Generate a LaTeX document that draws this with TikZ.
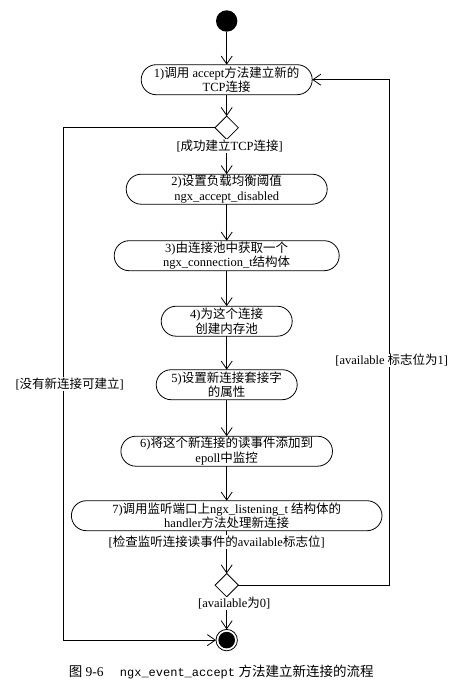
\documentclass[tikz,border=0pt]{standalone}
\usepackage{fontspec}
\setmainfont{Liberation Serif}
\setmonofont{Liberation Mono}
\newfontfamily\zhfont{Noto Sans CJK SC}
\newcommand{\cn}[1]{{\zhfont #1}}
\usepackage{tikz}
\usetikzlibrary{arrows.meta,positioning,calc,shapes.geometric}

\tikzset{
  flow/.style={-{Straight Barb[length=8pt,width=11pt]}, line width=0.8pt},
  action/.style={draw, line width=0.8pt, rounded corners=15pt, align=center,
    minimum height=30pt, inner sep=0pt, outer sep=0pt},
  branch/.style={draw, diamond, aspect=1, line width=0.8pt, inner sep=0pt,
    outer sep=0pt, minimum width=23.3pt, minimum height=23.3pt},
  guard/.style={fill=white, inner sep=0.5pt},
}

\begin{document}
\begin{tikzpicture}[every node/.style={font=\fontsize{12.5}{14.5}\selectfont}]
  \useasboundingbox (-226.7pt,21pt) rectangle (236.3pt,-670pt);
  \node (start) [circle, fill=black, minimum size=21.4pt, inner sep=0pt, outer sep=0pt] at (0,0) {};
  \node (accept) [action, minimum width=171pt, below=33pt of start]
    {1)\cn{调用} accept\cn{方法建立新的}\\TCP\cn{连接}};
  \node (ok) [branch, below=21.4pt of accept] {};
  \node (limit) [action, minimum width=201pt, below=34.8pt of ok]
    {2)\cn{设置负载均衡阈值}\\ngx\_accept\_disabled};
  \node (getconn) [action, minimum width=225pt, below=36.5pt of limit]
    {3)\cn{由连接池中获取一个}\\ngx\_connection\_t\cn{结构体}};
  \node (pool) [action, minimum width=131pt, below=35.5pt of getconn]
    {4)\cn{为这个连接}\\\cn{创建内存池}};
  \node (sockopt) [action, minimum width=141pt, below=33.5pt of pool]
    {5)\cn{设置新连接套接字}\\\cn{的属性}};
  \node (epoll) [action, minimum width=211.6pt, below=36.5pt of sockopt]
    {6)\cn{将这个新连接的读事件添加到}\\epoll\cn{中监控}};
  \node (handler) [action, minimum width=310.6pt, below=34.5pt of epoll]
    {7)\cn{调用监听端口上}ngx\_listening\_t \cn{结构体的}\\handler\cn{方法处理新连接}};
  \node (avail) [branch, below=42.8pt of handler] {};
  \node (stop) [circle, draw, line width=0.8pt, minimum size=21.4pt, inner sep=0pt, outer sep=0pt,
    below=32.6pt of avail,
    path picture={\fill[black] (path picture bounding box.center) circle (8.3pt);}] {};

  % main flow
  \draw[flow] (start) -- (accept);
  \draw[flow] (accept) -- (ok);
  \draw[flow] (ok) -- (limit);
  \draw[flow] (limit) -- (getconn);
  \draw[flow] (getconn) -- (pool);
  \draw[flow] (pool) -- (sockopt);
  \draw[flow] (sockopt) -- (epoll);
  \draw[flow] (epoll) -- (handler);
  \draw[flow] (handler) -- (avail);
  \draw[flow] (avail) -- (stop);

  % loops
  \draw[flow] (ok.west) -- ++(-151.35pt,0) |-
    node[guard, pos=0.25, xshift=6pt] {[\cn{没有新连接可建立}]} (stop.west);
  \draw[flow] (avail.east) -- ++(151.4pt,0) |-
    node[guard, pos=0.2225, xshift=2pt] {[available \cn{标志位为}1]} (accept.east);

  % guards
  \node (okguard) [guard] at ([xshift=3pt,yshift=-6.5pt]ok.south) {[\cn{成功建立}TCP\cn{连接}]};
  \node (checkguard) [guard] at ([xshift=-10pt,yshift=-11.2pt]handler.south)
    {[\cn{检查监听连接读事件的}available\cn{标志位}]};
  \node (zeroguard) [guard] at ([xshift=7.5pt,yshift=-6.6pt]avail.south) {[available\cn{为}0]};

  \node (caption) at ([xshift=-5.5pt,yshift=-31.7pt]stop.center)
    {\fontsize{13.5}{15}\selectfont\cn{图} 9-6\hspace{1.2em}{\fontsize{12}{15}\selectfont\ttfamily ngx\_event\_accept} \cn{方法建立新连接的流程}};
\end{tikzpicture}
\end{document}
